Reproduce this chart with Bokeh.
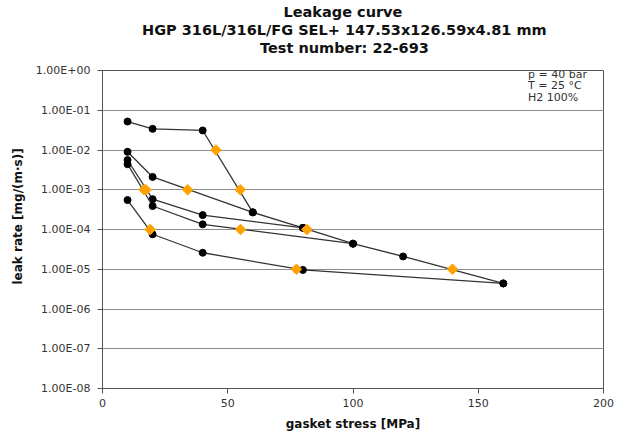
import math
from bokeh.plotting import figure
from bokeh.models import Range1d, FixedTicker, Label, Title
from bokeh.embed import file_html
from bokeh.resources import INLINE

# ---- texts ----
title_lines = ["Leakage curve",
               "HGP 316L/316L/FG SEL+ 147.53x126.59x4.81 mm",
               "Test number: 22-693"]
info_lines = ["p = 40 bar", "T = 25 °C", "H2 100%"]
x_label = "gasket stress [MPa]"
y_label = "leak rate [mg/(m·s)]"

# ---- ticks ----
x_ticks = [0, 50, 100, 150, 200]
y_ticks = [1e-8, 1e-7, 1e-6, 1e-5, 1e-4, 1e-3, 1e-2, 1e-1, 1e0]
y_tick_labels = ["1.00E-08", "1.00E-07", "1.00E-06", "1.00E-05", "1.00E-04",
                 "1.00E-03", "1.00E-02", "1.00E-01", "1.00E+00"]

# ---- data: loading curve and unloading curves ----
loading_x = [10, 20, 40, 60, 80, 100, 120, 160]
loading_y = [5.2e-2, 3.4e-2, 3.1e-2, 2.7e-4, 1.1e-4, 4.4e-5, 2.1e-5, 4.4e-6]

unload60_x = [60, 20, 10]
unload60_y = [2.7e-4, 2.1e-3, 9.0e-3]

unload80_x = [80, 40, 20, 10]
unload80_y = [1.1e-4, 2.3e-4, 5.8e-4, 5.6e-3]

unload100_x = [100, 40, 20, 10]
unload100_y = [4.4e-5, 1.35e-4, 3.9e-4, 4.4e-3]

unload160_x = [160, 80, 40, 20, 10]
unload160_y = [4.4e-6, 9.6e-6, 2.6e-5, 7.6e-5, 5.5e-4]

# interpolated points at the leakage classes (orange diamonds)
class_x = [45.3, 55.0, 81.6, 139.7, 34.0, 17.3, 16.6, 55.1, 19.0, 77.4]
class_y = [1e-2, 1e-3, 1e-4, 1e-5, 1e-3, 1e-3, 1e-3, 1e-4, 1e-4, 1e-5]

FONT = "DejaVu Sans"
FW, FH = 501, 318

p = figure(frame_width=FW, frame_height=FH,
           x_range=Range1d(0, 200), y_range=Range1d(1e-8, 1),
           y_axis_type="log", output_backend="svg", toolbar_location=None,
           min_border_left=102, min_border_right=12,
           min_border_top=70, min_border_bottom=45)
p.background_fill_color = "white"
p.border_fill_color = "white"
p.outline_line_color = "#555555"
p.outline_line_width = 1

# axes
p.xaxis.ticker = FixedTicker(ticks=x_ticks, minor_ticks=[])
p.yaxis.ticker = FixedTicker(ticks=y_ticks, minor_ticks=[])
p.yaxis.major_label_overrides = {t: l for t, l in zip(y_ticks, y_tick_labels)}
for ax in (p.xaxis, p.yaxis):
    ax.axis_line_color = "#555555"
    ax.major_tick_line_color = "#555555"
    ax.major_tick_in = 0
    ax.major_tick_out = 5
    ax.minor_tick_line_color = None
    ax.major_label_text_font = FONT
    ax.major_label_text_font_size = "11px"
    ax.major_label_text_color = "#333333"
p.yaxis.major_label_standoff = 7
p.xaxis.major_label_standoff = 5
p.xaxis.axis_label = x_label
p.xaxis.axis_label_text_font = FONT
p.xaxis.axis_label_text_font_size = "12px"
p.xaxis.axis_label_text_font_style = "bold"
p.xaxis.axis_label_text_color = "#111111"
p.xaxis.axis_label_standoff = 7

p.xgrid.grid_line_color = None
p.ygrid.ticker = FixedTicker(ticks=y_ticks, minor_ticks=[])
p.ygrid.grid_line_color = "#8c8c8c"
p.ygrid.grid_line_width = 1

# lines
line_color = "#333333"
for xs, ys in [(loading_x, loading_y), (unload60_x, unload60_y),
               (unload80_x, unload80_y), (unload100_x, unload100_y),
               (unload160_x, unload160_y)]:
    p.line(xs, ys, line_color=line_color, line_width=1.3)
    p.scatter(xs, ys, marker="circle", size=7, fill_color="black", line_color="black")

p.scatter(class_x, class_y, marker="square", angle=math.pi / 4, size=7.5,
          fill_color="#FFA200", line_color="#FFA200")

# y axis title as a left-side title (start-aligned so it can be shifted along the axis)
p.add_layout(Title(text=y_label, align="left", offset=104, standoff=16,
                   text_font=FONT, text_font_size="12px", text_font_style="bold",
                   text_color="#111111"), "left")

# spacer between frame and title block, then titles (first added sits closest to the frame)
p.add_layout(Title(text=" ", text_font=FONT, text_font_size="11px", standoff=0), "above")
title_offsets = [181, 39.5, 157.5]
for t, off in reversed(list(zip(title_lines, title_offsets))):
    p.add_layout(Title(text=t, align="left", offset=off, standoff=0,
                       text_font=FONT, text_font_size="14.5px", text_font_style="bold",
                       text_color="#111111"), "above")

# info text
for i, t in enumerate(info_lines):
    p.add_layout(Label(x=425.5, y=FH - 3.5 - 11.5 * i, x_units="screen", y_units="screen",
                       text=t, text_align="left", text_baseline="middle",
                       text_font=FONT, text_font_size="11px", text_color="#333333"))

open("out.html", "w").write(file_html(p, INLINE))
